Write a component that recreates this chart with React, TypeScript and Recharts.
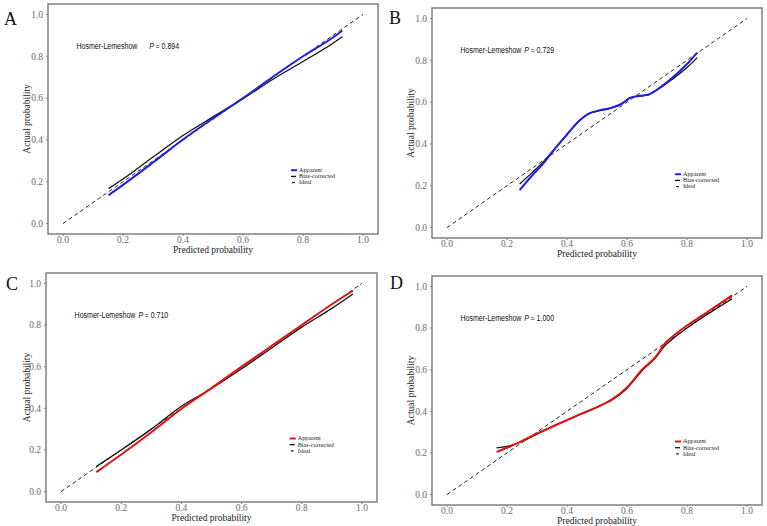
import React from 'react'
import { LineChart, Line, XAxis, YAxis, ReferenceArea, ReferenceDot } from 'recharts'

// shared
const axisTicks = [0, 0.2, 0.4, 0.6, 0.8, 1.0]
const idealX = [0, 1]
const idealY = [0, 1]
const panelLabels = ['A', 'B', 'C', 'D']
const pValues = ['0.894', '0.729', '0.710', '1.000']
const legendNames = ['Apparent', 'Bias-corrected', 'Ideal']

// panel A
const aX = [0.152, 0.2, 0.3, 0.4, 0.5, 0.6, 0.7, 0.8, 0.9, 0.931]
const aApparent = [0.136, 0.185, 0.292, 0.402, 0.503, 0.6, 0.702, 0.8, 0.89, 0.922]
const aBias = [0.167, 0.213, 0.318, 0.421, 0.51, 0.597, 0.69, 0.775, 0.862, 0.893]

// panel B
const bX = [0.242, 0.28, 0.32, 0.36, 0.4, 0.44, 0.47, 0.5, 0.54, 0.58, 0.61, 0.64, 0.67, 0.7, 0.75, 0.8, 0.834]
const bApparent = [0.179, 0.243, 0.305, 0.378, 0.445, 0.51, 0.543, 0.558, 0.57, 0.59, 0.62, 0.63, 0.635, 0.66, 0.715, 0.782, 0.837]
const bBias = [0.208, 0.258, 0.313, 0.378, 0.445, 0.51, 0.543, 0.556, 0.568, 0.59, 0.62, 0.628, 0.635, 0.658, 0.708, 0.765, 0.813]

// panel C
const cX = [0.117, 0.2, 0.3, 0.4, 0.5, 0.6, 0.7, 0.8, 0.9, 0.97]
const cApparent = [0.093, 0.178, 0.285, 0.398, 0.497, 0.6, 0.7, 0.8, 0.9, 0.965]
const cBias = [0.12, 0.2, 0.3, 0.41, 0.495, 0.59, 0.69, 0.79, 0.88, 0.949]

// panel D
const dX = [0.165, 0.2, 0.25, 0.3, 0.35, 0.4, 0.45, 0.5, 0.55, 0.6, 0.65, 0.7, 0.72, 0.75, 0.8, 0.85, 0.9, 0.95]
const dApparent = [0.205, 0.225, 0.258, 0.293, 0.326, 0.358, 0.39, 0.42, 0.458, 0.515, 0.6, 0.67, 0.715, 0.757, 0.812, 0.86, 0.908, 0.957]
const dBias = [0.224, 0.232, 0.255, 0.29, 0.325, 0.357, 0.389, 0.42, 0.455, 0.51, 0.595, 0.665, 0.705, 0.745, 0.8, 0.85, 0.895, 0.941]

const zip = (xs: number[], ys: number[]) => xs.map((x, i) => ({ x, y: ys[i] }))

const ideal = zip(idealX, idealY)
const series = [
  { apparent: zip(aX, aApparent), bias: zip(aX, aBias) },
  { apparent: zip(bX, bApparent), bias: zip(bX, bBias) },
  { apparent: zip(cX, cApparent), bias: zip(cX, cBias) },
  { apparent: zip(dX, dApparent), bias: zip(dX, dBias) },
]

const BLUE = '#1f1fe6'
const RED = '#e3120f'
const FRAME = '#808080'
const SERIF = '"Liberation Serif", "Times New Roman", serif'
const SANS = '"Liberation Sans", Arial, sans-serif'

// layout of each panel
const layout = [
  { left: 0, top: 0, width: 384, yw: 48, r: 6, t: 4, xh: 29, color: BLUE, gap: 12 },
  { left: 384, top: 0, width: 383, yw: 48, r: 5, t: 8, xh: 25, color: BLUE, gap: 3 },
  { left: 0, top: 263, width: 384, yw: 46, r: 7, t: 10, xh: 24, color: RED, gap: 3 },
  { left: 384, top: 263, width: 383, yw: 48, r: 5, t: 13, xh: 21, color: RED, gap: 3 },
]

const domain: [number, number] = [-0.05, 1.05]
const fmt = (v: number) => v.toFixed(1)

function Panel({ idx }: { idx: number }) {
  const l = layout[idx]
  const s = series[idx]

  const hlContent = (props: any) => {
    const vb = props.viewBox
    const cx = vb.x + vb.width / 2
    const cy = vb.y + vb.height / 2
    return (
      <g transform={`translate(${cx},${cy}) scale(0.74,1)`}>
        <text x={0} y={0} dy="0.35em" fontFamily={SANS} fontSize={9.5} fill="#111">
          Hosmer-Lemeshow
          <tspan dx={l.gap / 0.74} fontStyle="italic">P</tspan>
          <tspan dx={2}>= {pValues[idx]}</tspan>
        </text>
      </g>
    )
  }

  const legendContent = (props: any) => {
    const vb = props.viewBox
    const cx = vb.x + vb.width / 2
    const cy = vb.y + vb.height / 2
    return (
      <g>
        {legendNames.map((name, i) => {
          const y = cy + i * 6.2
          return (
            <g key={name}>
              {i === 0 && <line x1={cx} x2={cx + 6} y1={y} y2={y} stroke={l.color} strokeWidth={2} />}
              {i === 1 && <line x1={cx} x2={cx + 5} y1={y} y2={y} stroke="#111" strokeWidth={1.3} />}
              {i === 2 && <line x1={cx + 1} x2={cx + 4} y1={y} y2={y} stroke="#111" strokeWidth={1.1} />}
              <text x={cx + 8} y={y} dy="0.3em" fontFamily={SERIF} fontSize={6.2} fill="#222">
                {name}
              </text>
            </g>
          )
        })}
      </g>
    )
  }

  return (
    <div style={{ position: 'absolute', left: l.left, top: l.top }}>
      <LineChart width={l.width} height={263} margin={{ top: l.t, right: l.r, bottom: 0, left: 0 }}>
        <XAxis
          type="number"
          dataKey="x"
          domain={domain}
          ticks={axisTicks}
          tickFormatter={fmt}
          allowDataOverflow
          axisLine={false}
          tickLine={{ stroke: FRAME }}
          tickSize={2}
          tickMargin={0}
          height={l.xh}
          tick={{ fontSize: 9.5, fill: '#6a6a6a', fontFamily: SERIF }}
          label={{ value: 'Predicted probability', position: 'insideTop', offset: 12, fill: '#222', fontSize: 9.5, fontFamily: SERIF }}
        />
        <YAxis
          type="number"
          dataKey="y"
          domain={domain}
          ticks={axisTicks}
          tickFormatter={fmt}
          allowDataOverflow
          axisLine={false}
          tickLine={{ stroke: FRAME }}
          tickSize={2}
          tickMargin={3}
          width={l.yw}
          tick={{ fontSize: 9.5, fill: '#6a6a6a', fontFamily: SERIF }}
          label={{
            value: 'Actual probability',
            angle: -90,
            position: 'insideLeft',
            offset: 27,
            fill: '#222',
            fontSize: 9.5,
            fontFamily: SERIF,
            style: { textAnchor: 'middle' },
          }}
        />
        <ReferenceArea x1={domain[0]} x2={domain[1]} y1={domain[0]} y2={domain[1]} fill="none" stroke={FRAME} strokeWidth={1.5} />
        <Line data={ideal} dataKey="y" type="linear" stroke="#222" strokeWidth={1} strokeDasharray="4 3" dot={false} isAnimationActive={false} />
        <Line data={s.bias} dataKey="y" type="monotone" stroke="#111" strokeWidth={1.3} dot={false} isAnimationActive={false} />
        <Line data={s.apparent} dataKey="y" type="monotone" stroke={l.color} strokeWidth={2} dot={false} isAnimationActive={false} />
        <ReferenceDot x={0.045} y={0.85} r={1} fill="none" stroke="none" label={{ content: hlContent }} />
        <ReferenceDot x={0.76} y={0.255} r={1} fill="none" stroke="none" label={{ content: legendContent }} />
      </LineChart>
    </div>
  )
}

const letterPos = [
  { left: 4, top: 11 },
  { left: 389, top: 10 },
  { left: 6, top: 276 },
  { left: 390, top: 275 },
]

export default function App() {
  return (
    <div style={{ position: 'absolute', left: 0, top: 0, width: 767, height: 526, background: '#fff' }}>
      {panelLabels.map((_, i) => (
        <Panel key={i} idx={i} />
      ))}
      {panelLabels.map((lab, i) => (
        <div
          key={lab}
          style={{ position: 'absolute', left: letterPos[i].left, top: letterPos[i].top, fontFamily: SERIF, fontSize: 18, lineHeight: '16px', color: '#111' }}
        >
          {lab}
        </div>
      ))}
    </div>
  )
}
